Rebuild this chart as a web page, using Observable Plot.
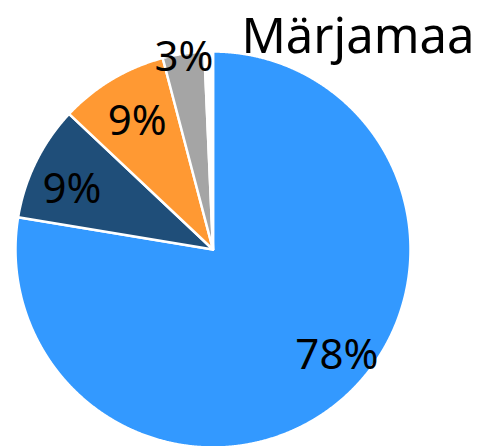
<!DOCTYPE html>
<html><head><meta charset="utf-8">
<script src="https://cdn.jsdelivr.net/npm/d3@7"></script>
<script src="https://cdn.jsdelivr.net/npm/@observablehq/plot@0.6"></script>
<style>body{margin:0;background:#fff}</style>
</head><body><div id="chart"></div>
<script>
const title = "Märjamaa";
const categories = ["A", "B", "C", "D", "E", "F"];
const values = [77.6, 9.4, 8.9, 3.4, 0.2, 0.5];
const labels = ["78%", "9%", "9%", "3%", "", ""];
const colors = ["#3399ff", "#1f4e79", "#ff9933", "#a5a5a5", "#8fbaf0", "#ffffff"];
const labelRadius = [0.82, 0.78, 0.75, 0.98];
const labelNudge = [[19, -18], [-3, 8], [0, 0], [0, 0]];

const RPX = 197;
const arcs = d3.pie().sort(null).value(d => d)(values);
const slices = arcs.flatMap((p, i) => {
  const pts = [{cat: categories[i], x: 0, y: 0}];
  const n = Math.max(2, Math.ceil((p.endAngle - p.startAngle) / 0.004));
  for (let j = 0; j <= n; j++) {
    const a = p.startAngle + (p.endAngle - p.startAngle) * j / n;
    pts.push({cat: categories[i], x: Math.sin(a), y: Math.cos(a)});
  }
  pts.push({cat: categories[i], x: 0, y: 0});
  return pts;
});
const labelData = labelRadius.map((r, i) => {
  const p = arcs[i];
  const a = (p.startAngle + p.endAngle) / 2;
  return {
    text: labels[i],
    x: r * Math.sin(a) + labelNudge[i][0] / RPX,
    y: r * Math.cos(a) - labelNudge[i][1] / RPX
  };
});

const chart = Plot.plot({
  width: 479,
  height: 446,
  marginLeft: 15,
  marginRight: 69,
  marginTop: 51,
  marginBottom: -1,
  x: {domain: [-1, 1], axis: null},
  y: {domain: [-1, 1], axis: null},
  color: {domain: categories, range: colors},
  style: {fontFamily: "Noto Sans", background: "white", overflow: "visible"},
  marks: [
    Plot.line(slices, {x: "x", y: "y", z: "cat", fill: "cat", stroke: "white", strokeWidth: 2.5, strokeLinejoin: "round"}),
    Plot.text(labelData, {x: "x", y: "y", text: "text", fontSize: 42, fill: "black"}),
    Plot.text([title], {frameAnchor: "top-right", dx: 64, dy: 1, textAnchor: "end", lineAnchor: "bottom", fontSize: 49, fill: "black"})
  ]
});
document.getElementById("chart").appendChild(chart);
</script>
</body></html>
